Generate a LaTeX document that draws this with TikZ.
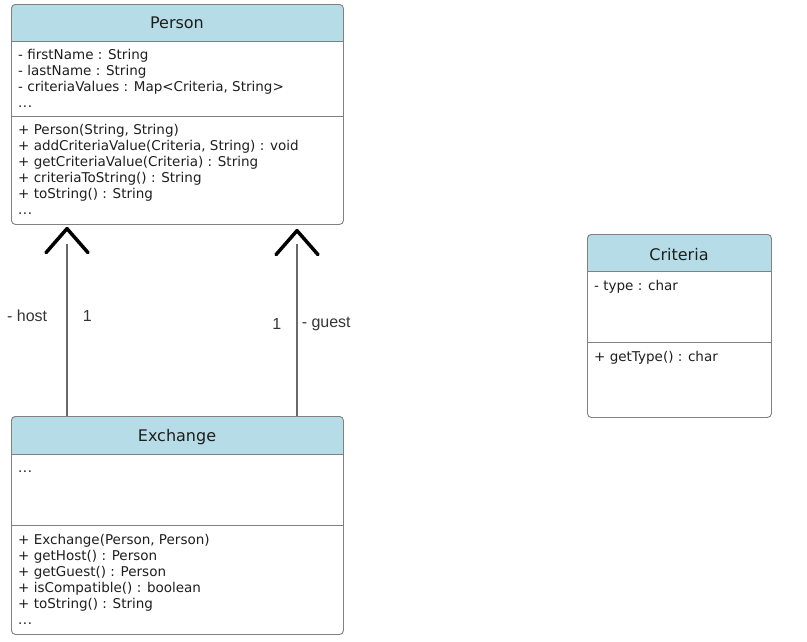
\documentclass[tikz,border=0pt]{standalone}
\usepackage{fontspec}
\setmainfont{DejaVu Sans}
\newfontfamily\linkfont{Liberation Sans}
\usetikzlibrary{arrows.meta,positioning,calc}
\definecolor{umlHead}  {RGB}{182,221,231}
\definecolor{umlBorder}{RGB}{128,128,128}
\definecolor{umlText}  {RGB}{30, 30, 30}
\definecolor{linkGray} {RGB}{105,105,105}

\begin{document}
\begin{tikzpicture}[x=1pt,y=-1pt,
    classbox/.style={draw=umlBorder,line width=0.9pt,rounded corners=4pt,
                     inner sep=0pt,anchor=north west},
    headfill/.style={fill=umlHead},
    title/.style={font=\fontsize{16}{18}\selectfont,text=umlText},
    member/.style={font=\fontsize{13.5}{16}\selectfont,text=umlText,
                   anchor=base west,inner sep=0pt},
    divider/.style={draw=umlBorder,line width=0.9pt},
    assoc/.style={draw=linkGray,line width=1.6pt,dash pattern=on 172pt off 60pt,
                  -{Straight Barb[length=24pt,width=42pt,line width=3.5pt,
                    color=black,round]}},
    lbl/.style={font=\linkfont\fontsize{16}{18}\selectfont,text=umlText!90,inner sep=0pt}]

    \useasboundingbox (0,0) rectangle (807,641);

    % classe Person
    \begin{scope}
      \clip[rounded corners=4pt] (11,4) rectangle (343,224);
      \fill[headfill] (11,4) rectangle (343,41);
    \end{scope}
    \node[classbox,minimum width=332pt,minimum height=220pt] (person) at (11,4) {};
    \draw[divider] (11,41) -- (343,41);
    \draw[divider] (11,116) -- (343,116);
    \node[title] (personTitle) at (177,23) {Person};
    \foreach \t [count=\i] in {- firstName : String,- lastName : String,
        {- criteriaValues : Map<Criteria, String>}}
      \node[member] (personAttr\i) at (18,{59+16*(\i-1)}) {\t};
    \node[member] (personAttrMore) at (18,107) {.\kern0.5pt.\kern0.5pt.};
    \foreach \t [count=\i] in {{+ Person(String, String)},
        {+ addCriteriaValue(Criteria, String) : void},
        + getCriteriaValue(Criteria) : String,+ criteriaToString() : String,
        + toString() : String}
      \node[member] (personOp\i) at (18,{134+16*(\i-1)}) {\t};
    \node[member] (personOpMore) at (18,214) {.\kern0.5pt.\kern0.5pt.};

    % classe Exchange
    \begin{scope}
      \clip[rounded corners=4pt] (11,416) rectangle (343,634);
      \fill[headfill] (11,416) rectangle (343,454);
    \end{scope}
    \node[classbox,minimum width=332pt,minimum height=218pt] (exchange) at (11,416) {};
    \draw[divider] (11,454) -- (343,454);
    \draw[divider] (11,525) -- (343,525);
    \node[title] (exchangeTitle) at (177,437) {Exchange};
    \node[member] (exchangeAttrMore) at (18,472) {.\kern0.5pt.\kern0.5pt.};
    \foreach \t [count=\i] in {{+ Exchange(Person, Person)},+ getHost() : Person,
        + getGuest() : Person,+ isCompatible() : boolean,+ toString() : String}
      \node[member] (exchangeOp\i) at (18,{544+16*(\i-1)}) {\t};
    \node[member] (exchangeOpMore) at (18,624) {.\kern0.5pt.\kern0.5pt.};

    % classe Criteria
    \begin{scope}
      \clip[rounded corners=4pt] (587,234) rectangle (771,417);
      \fill[headfill] (587,234) rectangle (771,271);
    \end{scope}
    \node[classbox,minimum width=184pt,minimum height=183pt] (criteria) at (587,234) {};
    \draw[divider] (587,271) -- (771,271);
    \draw[divider] (587,342) -- (771,342);
    \node[title] (criteriaTitle) at (679,255) {Criteria};
    \node[member] (criteriaAttr1) at (594,290) {- type : char};
    \node[member] (criteriaOp1) at (594,361) {+ getType() : char};

    % associacoes host / guest
    \coordinate (hostFoot)  at ($(exchange.north west)+(56,0)$);
    \coordinate (hostHead)  at ($(person.south west)+(56,2)$);
    \coordinate (guestFoot) at ($(exchange.north west)+(286,0)$);
    \coordinate (guestHead) at ($(person.south west)+(286,4)$);

    \draw[assoc] (hostFoot) -- (hostHead)
      node[lbl,pos=0.53,anchor=east,xshift=-19pt] (hostRole) {- host}
      node[lbl,pos=0.53,anchor=west,xshift=15pt] (hostMult) {1};
    \draw[assoc] (guestFoot) -- (guestHead)
      node[lbl,pos=0.49,anchor=east,xshift=-15pt] (guestMult) {1}
      node[lbl,pos=0.49,anchor=west,xshift=4pt] (guestRole) {- guest};

\end{tikzpicture}
\end{document}
